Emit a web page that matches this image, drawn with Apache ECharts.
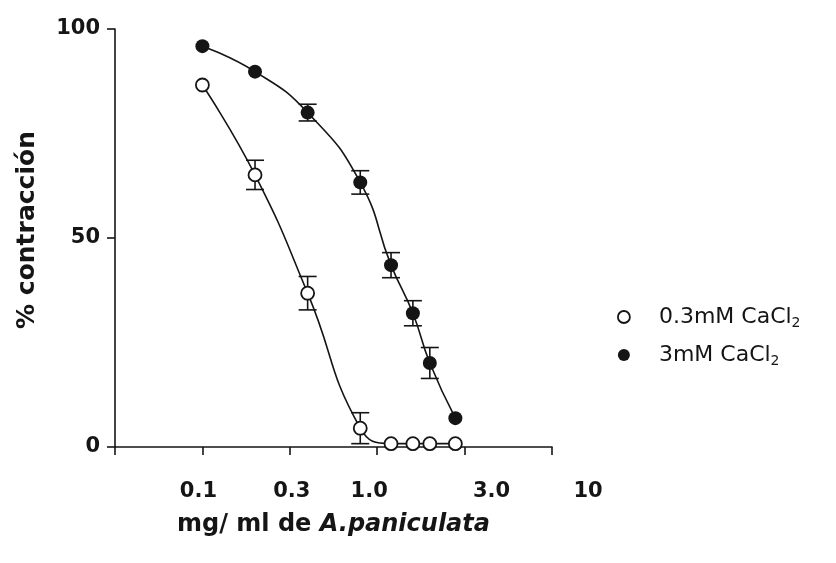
<!DOCTYPE html>
<html>
<head>
<meta charset="utf-8">
<script src="https://cdn.jsdelivr.net/npm/echarts@6/dist/echarts.min.js"></script>
<style>
html,body{margin:0;padding:0;background:#fff;}
#chart{width:836px;height:563px;}
</style>
</head>
<body>
<div id="chart"></div>
<script>
// concentrations (mg/ml)
const concentrations = [0.1, 0.2, 0.4, 0.8, 1.2, 1.6, 2.0, 2.8];
// % contraction, 0.3 mM CaCl2 (open circles)
const lowCa = [86.6, 65.1, 36.8, 4.5, 0.8, 0.8, 0.8, 0.8];
const lowCaErr = [0, 3.5, 4, 3.7, 0, 0, 0, 0];
// % contraction, 3 mM CaCl2 (filled circles)
const highCa = [95.9, 89.8, 80.0, 63.3, 43.5, 32.0, 20.1, 6.9];
const highCaErr = [0, 0, 2, 2.8, 3, 3, 3.7, 0];
// tick labels (half-decade ticks from 10^-1.5 to 10^1)
const xTickLabels = ['', '0.1', '0.3', '1.0', '3.0', '10'];
const xTickShift = [0, -4, 2, -8, 27, 36];
const seriesNames = ['0.3mM CaCl2', '3mM CaCl2'];

const FONT = 'DejaVu Sans';
const INK = '#151515';

function pairs(ys) { return concentrations.map((c, i) => [c, ys[i]]); }
function errData(ys, es) {
  const out = [];
  concentrations.forEach((c, i) => { if (es[i] > 0) out.push([c, ys[i] - es[i], ys[i] + es[i]]); });
  return out;
}

const rich = {};
xTickShift.forEach((s, i) => {
  rich['l' + i] = {
    fontFamily: FONT, fontWeight: 'bold', fontSize: 21, color: INK,
    padding: s >= 0 ? [0, 0, 0, 2 * s] : [0, -2 * s, 0, 0]
  };
});

function errorRender(params, api) {
  const x = api.value(0), lo = api.value(1), hi = api.value(2);
  const a = api.coord([x, lo]), b = api.coord([x, hi]);
  const w = 9;
  const st = { stroke: INK, lineWidth: 1.6 };
  return {
    type: 'group',
    children: [
      { type: 'line', shape: { x1: a[0], y1: a[1], x2: b[0], y2: b[1] }, style: st },
      { type: 'line', shape: { x1: a[0] - w, y1: a[1], x2: a[0] + w, y2: a[1] }, style: st },
      { type: 'line', shape: { x1: b[0] - w, y1: b[1], x2: b[0] + w, y2: b[1] }, style: st }
    ]
  };
}

const chart = echarts.init(document.getElementById('chart'), null, { renderer: 'canvas' });
chart.setOption({
  backgroundColor: '#fff',
  animation: false,
  grid: { left: 115, right: 284, top: 29, bottom: 116 },
  xAxis: {
    type: 'log',
    logBase: Math.sqrt(10),
    min: Math.pow(10, -1.5),
    max: 10,
    splitNumber: 5,
    axisLine: { lineStyle: { color: INK, width: 1.6 } },
    axisTick: { show: true, length: 8, lineStyle: { color: INK, width: 1.6 } },
    splitLine: { show: false },
    axisLabel: {
      margin: 34,
      showMinLabel: true, showMaxLabel: true,
      formatter: function (v) {
        const k = Math.round(Math.log10(v) * 2) + 3;
        if (k < 0 || k >= xTickLabels.length || !xTickLabels[k]) return '';
        return '{l' + k + '|' + xTickLabels[k] + '}';
      },
      rich: rich
    },
    name: '{n|mg/ ml de }{i|A.paniculata}',
    nameLocation: 'middle',
    nameGap: 66,
    nameTextStyle: {
      rich: {
        n: { fontFamily: FONT, fontWeight: 'bold', fontSize: 24, color: INK },
        i: { fontFamily: FONT, fontWeight: 'bold', fontStyle: 'italic', fontSize: 24, color: INK }
      }
    }
  },
  yAxis: {
    type: 'value',
    min: 0, max: 100, interval: 50,
    axisLine: { show: true, lineStyle: { color: INK, width: 1.6 } },
    axisTick: { show: true, length: 8, lineStyle: { color: INK, width: 1.6 } },
    splitLine: { show: false },
    axisLabel: { margin: 15, fontFamily: FONT, fontWeight: 'bold', fontSize: 21, color: INK },
    name: '% contracción',
    nameLocation: 'middle',
    nameGap: 75,
    nameTextStyle: { fontFamily: FONT, fontWeight: 'bold', fontSize: 25, color: INK, padding: [0, 0, 0, 16] }
  },
  legend: {
    orient: 'vertical',
    left: 612, top: 301,
    itemWidth: 12, itemHeight: 12, itemGap: 14,
    data: [
      { name: seriesNames[0], icon: 'circle', itemStyle: { color: '#fff', borderColor: INK, borderWidth: 1.8 } },
      { name: seriesNames[1], icon: 'circle', itemStyle: { color: INK, borderWidth: 0 } }
    ],
    formatter: function (name) {
      return '{t|' + name.slice(0, -1) + '}{s|' + name.slice(-1) + '}';
    },
    textStyle: {
      rich: {
        t: { fontFamily: FONT, fontSize: 22, color: INK, padding: [0, 0, 0, 24] },
        s: { fontFamily: FONT, fontSize: 14, color: INK, padding: [12, 0, 0, 0] }
      }
    }
  },
  series: [
    {
      name: 'err-low', type: 'custom', renderItem: errorRender, data: errData(lowCa, lowCaErr),
      encode: { x: 0, y: [1, 2] }, z: 1, silent: true
    },
    {
      name: 'err-high', type: 'custom', renderItem: errorRender, data: errData(highCa, highCaErr),
      encode: { x: 0, y: [1, 2] }, z: 1, silent: true
    },
    {
      name: seriesNames[0], type: 'line', data: pairs(lowCa),
      smooth: 0.5,
      symbol: 'circle', symbolSize: 13, showAllSymbol: true,
      lineStyle: { color: INK, width: 1.6 },
      itemStyle: { color: '#fff', borderColor: INK, borderWidth: 1.8 },
      z: 3
    },
    {
      name: seriesNames[1], type: 'line', data: pairs(highCa),
      smooth: 0.5,
      symbol: 'circle', symbolSize: 14, showAllSymbol: true,
      lineStyle: { color: INK, width: 1.6 },
      itemStyle: { color: INK, borderWidth: 0 },
      z: 3
    }
  ]
});
</script>
</body>
</html>
